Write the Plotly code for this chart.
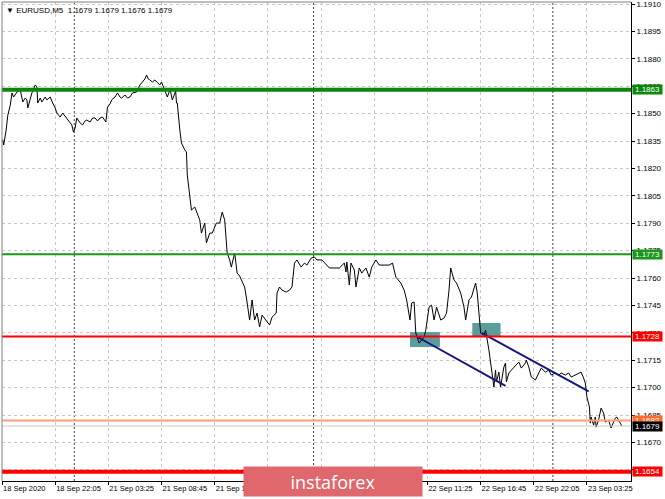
import plotly.graph_objects as go

# ---- data ----
bar_index = [1, 2, 5, 7, 10, 12, 14, 18, 22, 24, 25, 28, 30, 31, 34, 36, 40, 42, 43, 46, 48, 52, 54, 58, 61,
             64, 66, 70, 73, 76, 78, 82, 84, 86, 88, 90, 94, 97, 100, 102, 106, 109, 112, 115, 118, 121, 125,
             127, 130, 132, 136, 139, 142, 144, 148, 151, 154, 157, 162, 166, 169, 172, 174, 176, 178, 181,
             184, 186, 190, 192, 196, 199, 202, 203, 205, 208, 209, 210, 211, 214, 216, 220, 222, 223, 226,
             228, 232, 234, 238, 240, 244, 246, 250, 253, 256, 258, 262, 265, 268, 271, 274, 276, 280, 283,
             286, 288, 292, 294, 298, 301, 304, 307, 310, 313, 316, 318, 322, 325, 330, 331, 334, 337, 342,
             346, 349, 352, 355, 360, 364, 367, 372, 376, 379, 385, 390, 394, 400, 406, 412, 414, 415, 418,
             420, 424, 426, 430, 433, 438, 442, 445, 450, 454, 460, 466, 470, 474, 480, 484, 487, 491, 493,
             496, 498, 502, 505, 508, 510, 514, 517, 520, 523, 528, 532, 535, 538, 540, 544, 547, 552, 556,
             558, 562, 565, 570, 572, 575, 576, 580, 582, 586, 589, 592, 594, 595, 598, 600, 604, 606, 607,
             610, 613, 618, 622, 625, 630, 631, 634, 637, 642, 646, 649, 654, 658, 661, 666, 670, 673, 678,
             682, 685, 690, 694, 697, 700, 702, 703, 704, 707, 708, 709, 712, 714, 715, 718, 721, 724, 726,
             730, 733, 738, 740, 744, 746]
close_price = [1.18356, 1.18328, 1.18410, 1.18492, 1.18547, 1.18613, 1.18591, 1.18618, 1.18629, 1.18591,
               1.18564, 1.18585, 1.18575, 1.18531, 1.18575, 1.18613, 1.18657, 1.18646, 1.18558, 1.18585,
               1.18564, 1.18591, 1.18575, 1.18591, 1.18558, 1.18531, 1.18503, 1.18481, 1.18503, 1.18487,
               1.18476, 1.18454, 1.18438, 1.18399, 1.18421, 1.18476, 1.18449, 1.18438, 1.18460, 1.18465,
               1.18454, 1.18476, 1.18476, 1.18460, 1.18476, 1.18481, 1.18454, 1.18536, 1.18553, 1.18575,
               1.18591, 1.18613, 1.18591, 1.18585, 1.18602, 1.18585, 1.18591, 1.18613, 1.18618, 1.18657,
               1.18673, 1.18690, 1.18711, 1.18690, 1.18684, 1.18673, 1.18684, 1.18673, 1.18657, 1.18673,
               1.18629, 1.18591, 1.18629, 1.18618, 1.18575, 1.18618, 1.18624, 1.18558, 1.18558, 1.18410,
               1.18339, 1.18301, 1.18290, 1.18164, 1.18043, 1.17972, 1.17989, 1.17961, 1.17918, 1.17846,
               1.17901, 1.17792, 1.17846, 1.17846, 1.17874, 1.17901, 1.17901, 1.17961, 1.17918, 1.17737,
               1.17699, 1.17660, 1.17737, 1.17627, 1.17611, 1.17589, 1.17551, 1.17496, 1.17370, 1.17480,
               1.17370, 1.17408, 1.17332, 1.17397, 1.17381, 1.17370, 1.17343, 1.17386, 1.17408, 1.17518,
               1.17551, 1.17534, 1.17523, 1.17534, 1.17551, 1.17682, 1.17699, 1.17660, 1.17682, 1.17671,
               1.17709, 1.17715, 1.17699, 1.17699, 1.17671, 1.17655, 1.17655, 1.17655, 1.17682, 1.17633,
               1.17688, 1.17562, 1.17682, 1.17644, 1.17551, 1.17655, 1.17627, 1.17655, 1.17605, 1.17660,
               1.17699, 1.17671, 1.17671, 1.17671, 1.17682, 1.17605, 1.17573, 1.17534, 1.17480, 1.17370,
               1.17463, 1.17469, 1.17299, 1.17244, 1.17261, 1.17277, 1.17315, 1.17441, 1.17452, 1.17370,
               1.17441, 1.17370, 1.17381, 1.17408, 1.17534, 1.17655, 1.17589, 1.17573, 1.17518, 1.17441,
               1.17370, 1.17480, 1.17496, 1.17573, 1.17518, 1.17370, 1.17299, 1.17288, 1.17315, 1.17206,
               1.17096, 1.17003, 1.17096, 1.17031, 1.17085, 1.17003, 1.17113, 1.17135, 1.17031, 1.17080,
               1.17096, 1.17124, 1.17140, 1.17107, 1.17135, 1.17151, 1.17113, 1.17058, 1.17042, 1.17080,
               1.17107, 1.17085, 1.17096, 1.17069, 1.17080, 1.17069, 1.17080, 1.17069, 1.17080, 1.17058,
               1.17069, 1.17080, 1.17085, 1.17052, 1.17025, 1.16987, 1.16948, 1.16894, 1.16806, 1.16839,
               1.16795, 1.16839, 1.16784, 1.16823, 1.16888, 1.16861, 1.16812, 1.16823, 1.16779, 1.16833,
               1.16839, 1.16806, 1.16790]

tick_index = [0, 64, 128, 192, 256, 320, 384, 448, 512, 576, 640, 704]
tick_labels = ["18 Sep 2020", "18 Sep 22:05", "21 Sep 03:25", "21 Sep 08:45", "21 Sep 14:05",
               "21 Sep 19:25", "22 Sep 00:45", "22 Sep 06:05", "22 Sep 11:25", "22 Sep 16:45",
               "22 Sep 22:05", "23 Sep 03:25"]
price_ticks = [1.1655, 1.1670, 1.1685, 1.1700, 1.1715, 1.1730, 1.1745, 1.1760, 1.1775, 1.1790,
               1.1805, 1.1820, 1.1835, 1.1850, 1.1865, 1.1880, 1.1895, 1.1910]
price_tick_labels = ["%.4f" % v for v in price_ticks]
day_separators = [87, 375, 663]

level_prices = [1.1863, 1.1773, 1.1728, 1.1654, 1.1682, 1.1679]
level_labels = ["1.1863", "1.1773", "1.1728", "1.1654", "1.1682", "1.1679"]

trend1_x = [499, 606]
trend1_y = [1.1728, 1.1701]
trend2_x = [577, 706]
trend2_y = [1.1730, 1.1698]

box_x0 = [491, 566]
box_x1 = [527, 600]
box_y0 = [1.17222, 1.17277]
box_y1 = [1.17304, 1.17354]

symbol = "EURUSD,M5"
ohlc = [1.1679, 1.1679, 1.1676, 1.1679]
logo_text = "instaforex"

# ---- styles ----
level_colors = ["#0a870a", "#1a961a", "#ff0000", "#ff0000", "#ffa07a", "#c8c8c8"]
level_widths = [4, 2, 2, 4, 2, 1]
label_bg = ["#0a870a", "#1a961a", "#ff0000", "#ff0000", "#ff6a2a", "#000000"]
FONT = "Liberation Sans, Arial, sans-serif"

fig = go.Figure()

fig.add_trace(go.Scatter(x=bar_index, y=close_price, mode="lines",
                         line=dict(color="black", width=1), hoverinfo="skip", showlegend=False))
for tx, ty in [(trend1_x, trend1_y), (trend2_x, trend2_y)]:
    fig.add_trace(go.Scatter(x=tx, y=ty, mode="lines",
                             line=dict(color="#16167e", width=2), hoverinfo="skip", showlegend=False))

shapes = []
for x0, x1, y0, y1 in zip(box_x0, box_x1, box_y0, box_y1):
    shapes.append(dict(type="rect", xref="x", yref="y", x0=x0, x1=x1, y0=y0, y1=y1,
                       fillcolor="#5a9d9d", line=dict(width=0), layer="between"))
for d in day_separators:
    shapes.append(dict(type="line", xref="x", yref="paper", x0=d, x1=d, y0=0, y1=1,
                       line=dict(color="#404040", width=1, dash="2px,2px"), layer="between"))
for p, c, w in zip(level_prices, level_colors, level_widths):
    shapes.append(dict(type="line", xref="paper", yref="y", x0=0, x1=1, y0=p, y1=p,
                       line=dict(color=c, width=w), layer="above"))
# frame left/top
shapes.append(dict(type="line", xref="paper", yref="paper", x0=0, x1=0, y0=0, y1=1,
                   line=dict(color="#808080", width=1)))
shapes.append(dict(type="line", xref="paper", yref="paper", x0=0, x1=1, y0=1, y1=1,
                   line=dict(color="#808080", width=1)))

annotations = []
for p, t, bg in zip(level_prices, level_labels, label_bg):
    annotations.append(dict(x=1, xref="paper", xanchor="left", xshift=1, y=p, yref="y",
                            yanchor="middle", text=t, showarrow=False, bgcolor=bg,
                            font=dict(family=FONT, size=8, color="white"),
                            width=29, height=9, borderpad=0))
annotations.append(dict(x=0, xref="paper", xanchor="left", xshift=2, y=1, yref="paper",
                        yanchor="top", yshift=-2, showarrow=False,
                        text="▼ " + symbol + "  " + " ".join("%.4f" % v for v in ohlc),
                        font=dict(family=FONT, size=8, color="black")))
annotations.append(dict(x=0.5262, xref="paper", xanchor="center", y=-0.001, yref="paper",
                        yanchor="middle", showarrow=False, text=logo_text,
                        bgcolor="#e0686c", width=178, height=29, borderpad=0,
                        font=dict(family="Open Sans, sans-serif", size=18, color="white")))

fig.update_layout(
    width=665, height=499,
    margin=dict(l=2, r=34, t=2, b=18, autoexpand=False),
    paper_bgcolor="white", plot_bgcolor="white",
    shapes=shapes, annotations=annotations, showlegend=False,
    xaxis=dict(range=[0, 757], tickmode="array", tickvals=tick_index, ticktext=tick_labels,
               showgrid=True, gridcolor="#c8c8c8", griddash="3px,3px", gridwidth=1,
               showline=True, linecolor="black", linewidth=1, ticks="outside", ticklen=3,
               tickcolor="black", ticklabelposition="outside right", tickangle=0,
               automargin=False, ticklabeloverflow="allow",
               tickfont=dict(family=FONT, size=7.5, color="black"), zeroline=False, fixedrange=True),
    yaxis=dict(range=[1.16489, 1.19111], side="right", tickmode="array", tickvals=price_ticks,
               ticktext=price_tick_labels, showgrid=True, gridcolor="#c8c8c8", griddash="3px,3px",
               showline=True, linecolor="black", linewidth=1, ticks="outside", ticklen=3,
               tickcolor="black", tickfont=dict(family=FONT, size=8, color="black"),
               automargin=False, ticklabeloverflow="allow",
               zeroline=False, fixedrange=True),
)

fig.write_html("out.html", config={"displayModeBar": False},
               post_script="document.body.style.margin='0';document.body.style.padding='0';")
